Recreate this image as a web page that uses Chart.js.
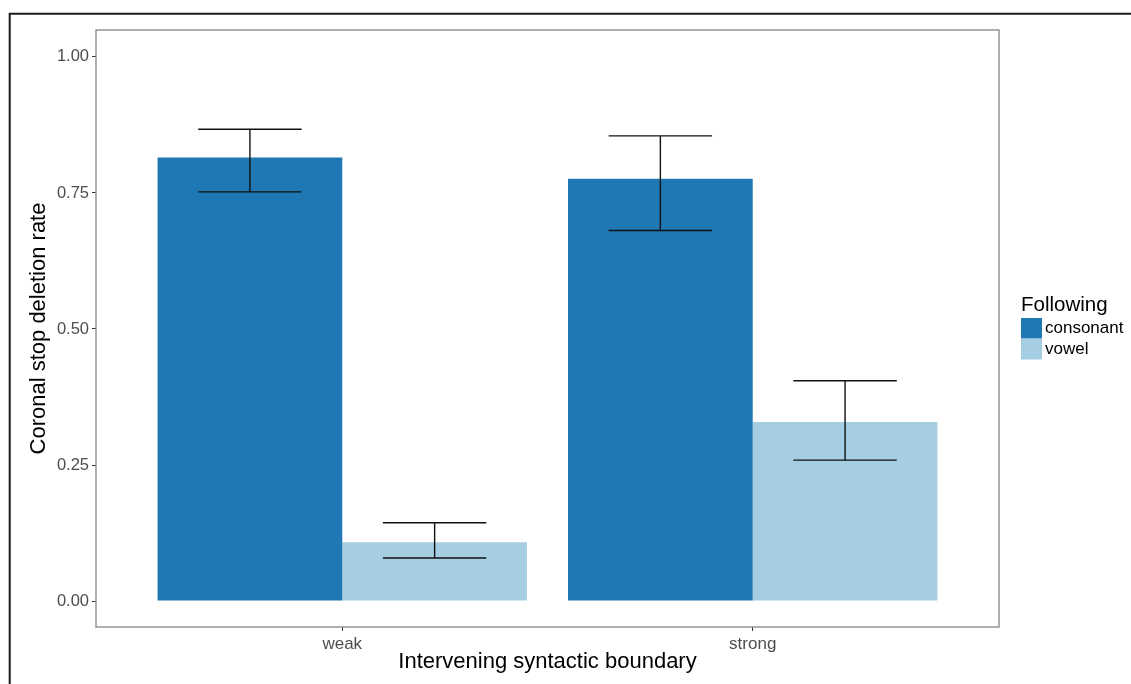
<!DOCTYPE html>
<html>
<head>
<meta charset="utf-8">
<script src="https://cdn.jsdelivr.net/npm/chart.js@4.4.1/dist/chart.umd.min.js"></script>
<style>
  html, body { margin: 0; padding: 0; background: #ffffff; }
  #wrap { width: 1131px; height: 684px; }
</style>
</head>
<body>
<div id="wrap"><canvas id="c" width="1131" height="684"></canvas></div>
<script>
// ---- data ----
const categories = ['weak', 'strong'];
const categoryPositions = [1, 2];
const seriesNames = ['consonant', 'vowel'];
const consonantRate = [0.815, 0.776];
const vowelRate = [0.108, 0.329];
const consonantLower = [0.752, 0.681];
const consonantUpper = [0.867, 0.855];
const vowelLower = [0.079, 0.259];
const vowelUpper = [0.144, 0.405];
const yTickValues = [0, 0.25, 0.5, 0.75, 1];
const legendTitle = 'Following';
const xTitle = 'Intervening syntactic boundary';
const yTitle = 'Coronal stop deletion rate';

const colors = ['#1f78b4', '#a6cee3'];
const FONT = '"Liberation Sans", Arial, Helvetica, sans-serif';

const lowers = [consonantLower, vowelLower];
const uppers = [consonantUpper, vowelUpper];

function toPoints(vals) {
  return vals.map((v, i) => ({ x: categoryPositions[i], y: v }));
}

const framePlugin = {
  id: 'frame',
  beforeDraw(chart) {
    const ctx = chart.ctx;
    ctx.save();
    ctx.fillStyle = '#ffffff';
    ctx.fillRect(0, 0, chart.width, chart.height);
    // outer frame (top + left)
    ctx.strokeStyle = '#1a1a1a';
    ctx.lineWidth = 2;
    ctx.beginPath();
    ctx.moveTo(9.7, chart.height);
    ctx.lineTo(9.7, 13.7);
    ctx.lineTo(chart.width, 13.7);
    ctx.stroke();
    ctx.restore();
  },
  afterDatasetsDraw(chart) {
    const ctx = chart.ctx;
    const yScale = chart.scales.y;
    ctx.save();
    // error bars
    ctx.strokeStyle = '#111111';
    ctx.lineWidth = 1.4;
    chart.data.datasets.forEach((ds, i) => {
      const meta = chart.getDatasetMeta(i);
      meta.data.forEach((bar, j) => {
        const x = bar.x;
        const half = bar.width * 0.56 / 2;
        const yHi = yScale.getPixelForValue(uppers[i][j]);
        const yLo = yScale.getPixelForValue(lowers[i][j]);
        ctx.beginPath();
        ctx.moveTo(x - half, yHi); ctx.lineTo(x + half, yHi);
        ctx.moveTo(x, yHi); ctx.lineTo(x, yLo);
        ctx.moveTo(x - half, yLo); ctx.lineTo(x + half, yLo);
        ctx.stroke();
      });
    });
    // panel border
    const a = chart.chartArea;
    ctx.strokeStyle = '#858585';
    ctx.lineWidth = 1.3;
    ctx.strokeRect(a.left, a.top, a.right - a.left, a.bottom - a.top);

    // legend
    ctx.fillStyle = '#000000';
    ctx.font = '20.5px ' + FONT;
    ctx.textBaseline = 'alphabetic';
    ctx.textAlign = 'left';
    ctx.fillText(legendTitle, 1021, 311);
    const keyX = 1021, keyW = 21, keyH = 20.5;
    const keyY = [318, 339];
    ctx.font = '17px ' + FONT;
    ctx.textBaseline = 'middle';
    chart.data.datasets.forEach((ds, i) => {
      ctx.fillStyle = ds.backgroundColor;
      ctx.fillRect(keyX, keyY[i], keyW, keyH);
      ctx.fillStyle = '#000000';
      ctx.fillText(ds.label, keyX + keyW + 3, keyY[i] + keyH / 2 + 0.5);
    });
    ctx.restore();
  }
};

new Chart(document.getElementById('c'), {
  type: 'bar',
  data: {
    datasets: [
      { label: seriesNames[0], data: toPoints(consonantRate), backgroundColor: colors[0],
        borderWidth: 0, categoryPercentage: 0.9, barPercentage: 1.0 },
      { label: seriesNames[1], data: toPoints(vowelRate), backgroundColor: colors[1],
        borderWidth: 0, categoryPercentage: 0.9, barPercentage: 1.0 }
    ]
  },
  options: {
    responsive: false,
    animation: false,
    devicePixelRatio: 1,
    layout: { padding: { left: 0, top: 30, right: 132, bottom: 0 } },
    plugins: {
      legend: { display: false },
      tooltip: { enabled: false },
      title: { display: false }
    },
    scales: {
      x: {
        type: 'linear',
        offset: false,
        min: 0.4,
        max: 2.6,
        afterBuildTicks(scale) { scale.ticks = categoryPositions.map(v => ({ value: v })); },
        afterFit(scale) { scale.height = 57; },
        grid: { offset: false, drawOnChartArea: false, drawTicks: true, tickLength: 4, color: '#333333', lineWidth: 1 },
        border: { display: false },
        ticks: {
          autoSkip: false,
          maxRotation: 0,
          padding: 3,
          color: '#4d4d4d',
          font: { family: FONT, size: 17 },
          callback(value) {
            const idx = categoryPositions.indexOf(value);
            return idx >= 0 ? categories[idx] : '';
          }
        },
        title: {
          display: true,
          text: xTitle,
          color: '#000000',
          font: { family: FONT, size: 22 },
          padding: { top: 0, bottom: 9 }
        }
      },
      y: {
        type: 'linear',
        min: -0.0477,
        max: 1.0495,
        afterBuildTicks(scale) { scale.ticks = yTickValues.map(v => ({ value: v })); },
        afterFit(scale) { scale.width = 96; },
        grid: { drawOnChartArea: false, drawTicks: true, tickLength: 4, color: '#333333', lineWidth: 1 },
        border: { display: false },
        ticks: {
          autoSkip: false,
          padding: 3,
          color: '#4d4d4d',
          font: { family: FONT, size: 16.5 },
          callback(value) { return Number(value).toFixed(2); }
        },
        title: {
          display: true,
          text: yTitle,
          color: '#000000',
          font: { family: FONT, size: 22 },
          padding: { top: 26, bottom: 0 }
        }
      }
    }
  },
  plugins: [framePlugin]
});
</script>
</body>
</html>
